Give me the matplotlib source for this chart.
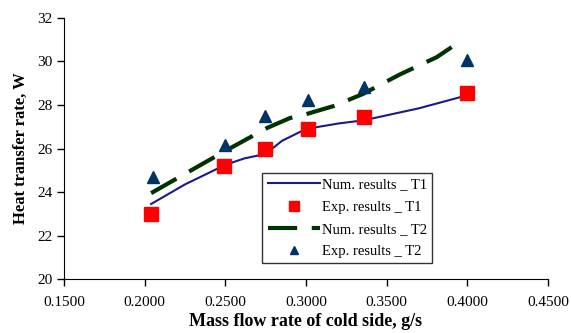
import matplotlib
matplotlib.use("Agg")
import matplotlib.pyplot as plt

plt.rcParams['font.family'] = ['Liberation Serif', 'DejaVu Serif']

# numerical results, T1
num_t1_x = [0.204, 0.225, 0.250, 0.262, 0.275, 0.285, 0.300, 0.320, 0.336, 0.370, 0.400]
num_t1_y = [23.45, 24.35, 25.25, 25.55, 25.75, 26.35, 26.90, 27.15, 27.30, 27.85, 28.45]
# experimental results, T1
exp_t1_x = [0.204, 0.249, 0.2745, 0.301, 0.336, 0.400]
exp_t1_y = [23.0, 25.2, 26.0, 26.9, 27.45, 28.55]
# numerical results, T2
num_t2_x = [0.204, 0.249, 0.276, 0.290, 0.301, 0.317, 0.335, 0.358, 0.381, 0.394]
num_t2_y = [23.95, 25.85, 26.95, 27.40, 27.60, 27.95, 28.50, 29.40, 30.20, 30.85]
# experimental results, T2
exp_t2_x = [0.205, 0.250, 0.2745, 0.301, 0.336, 0.400]
exp_t2_y = [24.7, 26.15, 27.5, 28.25, 28.85, 30.05]

xticks = [0.15, 0.20, 0.25, 0.30, 0.35, 0.40, 0.45]
yticks = [20, 22, 24, 26, 28, 30, 32]

fig = plt.figure(figsize=(5.71, 3.33), dpi=100)
ax = fig.add_axes([0.112, 0.162, 0.848, 0.784])

ax.plot(num_t1_x, num_t1_y, color='#1a1a8a', lw=1.5, label='Num. results _ T1')
ax.plot(exp_t1_x, exp_t1_y, ls='none', marker='s', ms=10, color='#ff0000',
        label='Exp. results _ T1')
ax.plot(num_t2_x, num_t2_y, color='#003300', lw=3, dashes=(7, 3.5),
        label='Num. results _ T2')
ax.plot(exp_t2_x, exp_t2_y, ls='none', marker='^', ms=9, color='#003366',
        label='Exp. results _ T2')

ax.set_xlim(0.15, 0.45)
ax.set_ylim(20, 32)
ax.set_xticks(xticks)
ax.set_xticklabels(['%.4f' % v for v in xticks])
ax.set_yticks(yticks)
ax.tick_params(labelsize=11, direction='out', length=5, width=1)
ax.tick_params(axis='x', pad=7)
ax.spines['top'].set_visible(False)
ax.spines['right'].set_visible(False)

ax.set_xlabel('Mass flow rate of cold side, g/s', fontsize=13, fontweight='bold',
              labelpad=3)
ax.set_ylabel('Heat transfer rate, W', fontsize=12, fontweight='bold', labelpad=6)

leg = ax.legend(loc='lower left', bbox_to_anchor=(0.41, 0.06), fontsize=10.5,
                frameon=True, fancybox=False, edgecolor='black',
                handlelength=3.6, borderpad=0.35, labelspacing=0.62,
                handletextpad=0.1, borderaxespad=0, markerscale=0.7)
leg.get_frame().set_linewidth(1)

fig.savefig('out.png', dpi=100)
